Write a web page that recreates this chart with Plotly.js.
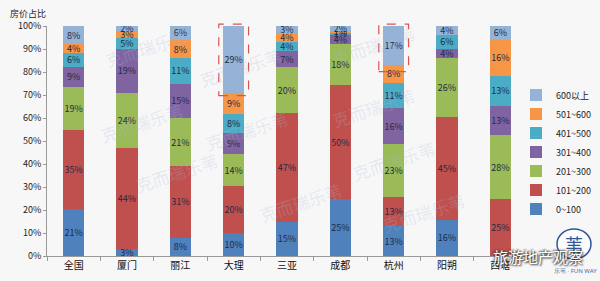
<!DOCTYPE html>
<html><head><meta charset="utf-8">
<script src="https://cdn.plot.ly/plotly-3.0.1.min.js"></script>
<style>html,body{margin:0;padding:0;background:#fff}#chart{width:600px;height:281px}</style>
</head><body><div id="chart"></div>
<script>
const categories = ['全国','厦门','丽江','大理','三亚','成都','杭州','阳朔','西塘'];
const seriesNames = ['0~100','101~200','201~300','301~400','401~500','501~600','600以上'];
const s0_100    = [21, 3, 8, 10, 15, 25, 13, 16, 0];
const s101_200  = [35, 44, 31, 20, 47, 50, 13, 45, 25];
const s201_300  = [19, 24, 21, 14, 20, 18, 23, 26, 28];
const s301_400  = [9, 19, 15, 9, 7, 4, 16, 4, 13];
const s401_500  = [6, 5, 11, 8, 4, 1, 11, 6, 13];
const s501_600  = [4, 3, 8, 9, 4, 1, 8, 0, 16];
const s600plus  = [8, 2, 6, 29, 3, 2, 17, 4, 6];
const colors = ['#4F81BD','#C0504D','#9BBB59','#8064A2','#4BACC6','#F79646','#95B3D7'];
const highlighted = ['大理','杭州'];

const all = [s0_100, s101_200, s201_300, s301_400, s401_500, s501_600, s600plus];
const traces = all.map((vals, i) => ({
  type: 'bar', x: categories, y: vals, name: seriesNames[i],
  marker: {color: colors[i]},
  text: vals.map(v => v === 0 && i === 0 ? '' : String(v)),
  texttemplate: '%{text}%', textposition: 'inside', insidetextanchor: 'middle',
  textangle: 0, textfont: {size: 9, color: '#1f2a44', family: 'Noto Sans CJK SC, sans-serif'},
  hoverinfo: 'skip'
}));

const PL = 47, PW = 480, PT = 26, PH = 230;
const px = v => (v - PL) / PW, py = v => 1 - (v - PT) / PH;

// dashed highlight boxes around the top (600以上) segment, from normalized data
const n = categories.length;
const shapes = highlighted.map(c => {
  const k = categories.indexOf(c);
  const tot = all.reduce((a, s) => a + s[k], 0);
  const topShare = s600plus[k] / tot * 100;
  const bottom = 100 - topShare - (c === '杭州' ? 3 : 1);
  return {type: 'rect', xref: 'paper', yref: 'paper',
    x0: (k + 0.5) / n - 0.031, x1: (k + 0.5) / n + 0.031, y0: bottom / 100, y1: 1.008,
    line: {color: '#d9534f', width: 1.2, dash: 'dash'}, fillcolor: 'rgba(0,0,0,0)'};
});

const wm = [[95,95],[130,200],[240,40],[200,130],[420,18],[420,80],[440,160],[300,230],[470,240],[100,20]];
const annotations = wm.map(p => ({
  xref: 'paper', yref: 'paper', x: px(p[0]), y: py(p[1]),
  text: '克而瑞乐苇', showarrow: false, textangle: -18,
  font: {size: 17, color: 'rgba(170,185,210,0.25)', family: 'Noto Sans CJK SC'}
}));
annotations.push({xref: 'paper', yref: 'paper', x: px(8), y: py(13), xanchor: 'left', yanchor: 'middle',
  text: '房价占比', showarrow: false, font: {size: 9, color: '#222', family: 'Noto Sans CJK SC'}});
shapes.push({type: 'circle', xref: 'paper', yref: 'paper',
  x0: px(557), x1: px(591), y0: py(259), y1: py(229),
  line: {color: '#2f5597', width: 1.5}, fillcolor: 'rgba(255,255,255,0.6)'});
annotations.push({xref: 'paper', yref: 'paper', x: px(574), y: py(244),
  text: '苇', showarrow: false, xanchor: 'center', yanchor: 'middle',
  font: {size: 18, color: '#2f5597', family: 'Noto Sans CJK SC'}});
annotations.push({xref: 'paper', yref: 'paper', x: px(538), y: py(256),
  text: '旅游地产观察', showarrow: false, xanchor: 'center', yanchor: 'middle',
  font: {size: 15, color: '#ffffff', family: 'Noto Sans CJK SC', shadow: '1px 1px 2px #222, -1px -1px 2px #444'}});
annotations.push({xref: 'paper', yref: 'paper', x: px(575), y: py(271),
  text: '乐苇 · FUN WAY', showarrow: false, xanchor: 'center', yanchor: 'middle',
  font: {size: 6, color: '#4a6a9a', family: 'Noto Sans'}});

const layout = {
  width: 600, height: 281,
  margin: {l: PL, r: 600 - PL - PW, t: PT, b: 281 - PT - PH, autoexpand: false},
  paper_bgcolor: '#f7f7f8', plot_bgcolor: 'rgba(0,0,0,0)',
  barmode: 'stack', barnorm: 'percent', bargap: 0.6,
  uniformtext: {mode: 'show', minsize: 9},
  font: {family: 'Noto Sans CJK SC, sans-serif', color: '#222'},
  xaxis: {type: 'category', showline: true, linecolor: '#999', linewidth: 1,
    ticks: 'outside', tickson: 'boundaries', ticklen: 4, tickcolor: '#999',
    tickfont: {size: 10, color: '#111'}, showgrid: false, zeroline: false, automargin: false},
  yaxis: {range: [0, 100], dtick: 10, ticksuffix: '%', showline: true, linecolor: '#999',
    ticks: 'outside', ticklen: 3, tickcolor: '#999', showgrid: false, zeroline: false,
    tickfont: {size: 9, color: '#222'}, automargin: false},
  legend: {x: px(516), y: py(152), xanchor: 'left', yanchor: 'middle', traceorder: 'reversed',
    font: {size: 9, color: '#222'}, itemwidth: 30, tracegroupgap: 0, bgcolor: 'rgba(0,0,0,0)'},
  shapes: shapes, annotations: annotations, showlegend: true
};
Plotly.newPlot('chart', traces, layout, {staticPlot: true});
</script></body></html>
